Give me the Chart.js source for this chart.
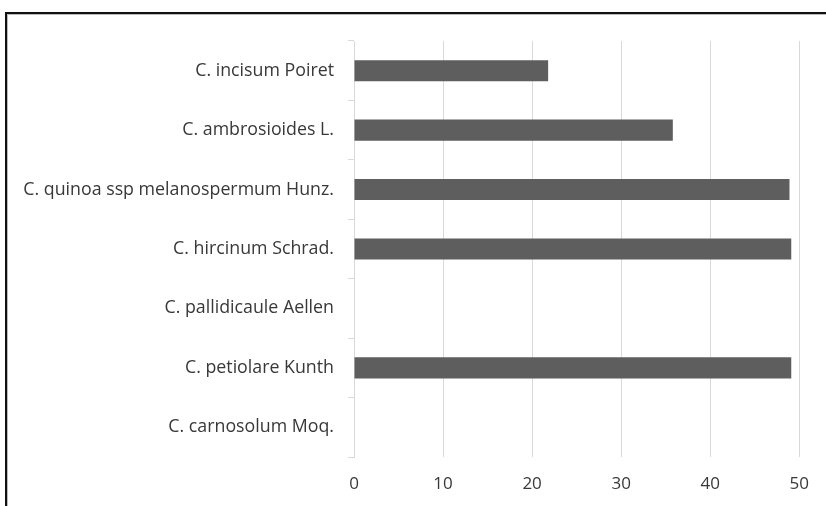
<!DOCTYPE html>
<html>
<head>
<meta charset="utf-8">
<script src="https://cdn.jsdelivr.net/npm/chart.js@4/dist/chart.umd.min.js"></script>
<style>
  html, body { margin: 0; padding: 0; background: #fff; overflow: hidden; }
  #frame {
    position: absolute; left: 5px; top: 12px; width: 900px; height: 600px;
    border: 2px solid #111;
    box-shadow: inset 1px 1px 0 #bbb;
  }
  #wrap { position: absolute; left: 0; top: 0; width: 826px; height: 506px; }
</style>
</head>
<body>
<div id="frame"></div>
<div id="wrap"><canvas id="chart"></canvas></div>
<script>
/* species and values, top to bottom as in the picture */
const species = [
  'C. incisum Poiret',
  'C. ambrosioides L.',
  'C. quinoa ssp melanospermum Hunz.',
  'C. hircinum Schrad.',
  'C. pallidicaule Aellen',
  'C. petiolare Kunth',
  'C. carnosolum Moq.',
];
const values = [21.8, 35.8, 48.9, 49.1, 0, 49.1, 0];
const xTicks = [0, 10, 20, 30, 40, 50];

const FONT = '"Open Sans", "Noto Sans", sans-serif';
const GRID = '#d9d9d9';
const TEXT = '#383838';

new Chart(document.getElementById('chart'), {
  type: 'bar',
  data: {
    labels: species,
    datasets: [{
      data: values,
      backgroundColor: '#5e5e5e',
      borderWidth: 0,
      barPercentage: 0.355,
      categoryPercentage: 1,
    }],
  },
  options: {
    indexAxis: 'y',
    responsive: true,
    maintainAspectRatio: false,
    animation: false,
    layout: { padding: { left: 0, right: 26, top: 41, bottom: 0 } },
    plugins: { legend: { display: false }, tooltip: { enabled: false } },
    scales: {
      x: {
        min: xTicks[0], max: xTicks[xTicks.length - 1],
        afterBuildTicks: (s) => { s.ticks = xTicks.map((v) => ({ value: v })); },
        grid: { color: GRID, lineWidth: 1, drawTicks: false },
        border: { display: false },
        ticks: { color: TEXT, font: { family: FONT, size: 17 }, padding: 17 },
        afterFit: (s) => { s.height = 49; },
      },
      y: {
        grid: { drawOnChartArea: false, drawTicks: true, tickLength: 6, color: GRID },
        border: { display: true, color: GRID },
        ticks: { color: TEXT, font: { family: FONT, size: 17.8 }, padding: 14 },
        afterFit: (s) => { s.width = 354; },
      },
    },
  },
});
</script>
</body>
</html>
